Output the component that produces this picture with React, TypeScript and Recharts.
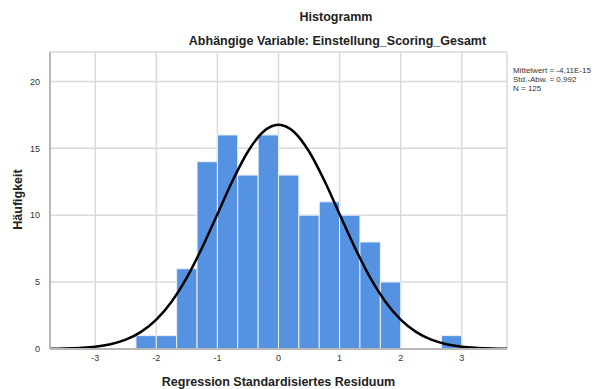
import { ComposedChart, Line, XAxis, YAxis, CartesianGrid, ReferenceArea } from 'recharts';

// histogram bins: edges (n+1) and frequencies (n)
const binEdges = [-2.333, -2, -1.667, -1.333, -1, -0.667, -0.333, 0, 0.333, 0.667, 1, 1.333, 1.667, 2, 2.333, 2.667, 3];
const binCounts = [1, 1, 6, 14, 16, 13, 16, 13, 10, 11, 10, 8, 5, 0, 0, 1];

// normal curve overlay
const curveX = [-3.74, -3.5, -3.25, -3, -2.75, -2.5, -2.25, -2, -1.75, -1.5, -1.25, -1, -0.75, -0.5, -0.25, 0, 0.25, 0.5, 0.75, 1, 1.25, 1.5, 1.75, 2, 2.25, 2.5, 2.75, 3, 3.25, 3.5, 3.74];
const curveY = [0.01, 0.03, 0.08, 0.17, 0.36, 0.7, 1.28, 2.2, 3.54, 5.34, 7.58, 10.08, 12.59, 14.76, 16.24, 16.76, 16.24, 14.76, 12.59, 10.08, 7.58, 5.34, 3.54, 2.2, 1.28, 0.7, 0.36, 0.17, 0.08, 0.03, 0.01];

const xTicks = [-3, -2, -1, 0, 1, 2, 3];
const yTicks = [0, 5, 10, 15, 20];

const statLines = ['Mittelwert = -4,11E-15', 'Std.-Abw. = 0,992', 'N = 125'];

const curveData = curveX.map((x, i) => ({ x, y: curveY[i] }));
const bins = binCounts.map((count, i) => ({ lo: binEdges[i], hi: binEdges[i + 1], count }));

const font = '"Liberation Sans", Arial, sans-serif';
const tickStyle = { fill: '#333', fontSize: 9, fontFamily: font };
const titleStyle = { fontSize: 12.5, fontWeight: 'bold', fill: '#222', fontFamily: font };

export default function App() {
  return (
    <div style={{ position: 'relative', width: 598, height: 389, fontFamily: font, background: '#fff' }}>
      <style>{'body{margin:0}'}</style>
      <div style={{ position: 'absolute', left: 0, width: 672, top: 10, textAlign: 'center', fontSize: 12.5, fontWeight: 'bold', color: '#222' }}>
        Histogramm
      </div>
      <div style={{ position: 'absolute', left: 0, width: 675, top: 34, textAlign: 'center', fontSize: 12.5, fontWeight: 'bold', color: '#222' }}>
        Abhängige Variable: Einstellung_Scoring_Gesamt
      </div>
      <div style={{ position: 'absolute', left: 513, top: 66, fontSize: 8, lineHeight: '9px', color: '#333' }}>
        {statLines.map((s) => (
          <div key={s}>{s}</div>
        ))}
      </div>
      <ComposedChart width={598} height={389} data={curveData} margin={{ top: 52, right: 91, bottom: 10, left: 0 }}>
        <CartesianGrid stroke="#dadada" strokeWidth={1.5} />
        <XAxis
          dataKey="x"
          type="number"
          domain={[-3.74, 3.74]}
          ticks={xTicks}
          allowDataOverflow
          tick={tickStyle}
          tickLine={false}
          tickSize={0}
          tickMargin={6}
          axisLine={{ stroke: '#b8b8b8', strokeWidth: 2 }}
          label={{ value: 'Regression Standardisiertes Residuum', position: 'center', dy: 18, style: titleStyle }}
        />
        <YAxis
          type="number"
          domain={[0, 22.2]}
          ticks={yTicks}
          width={50}
          allowDataOverflow
          tick={tickStyle}
          tickLine={false}
          tickSize={0}
          tickMargin={10}
          axisLine={{ stroke: '#b8b8b8', strokeWidth: 2 }}
          label={{ value: 'Häufigkeit', angle: -90, position: 'center', dx: -7, dy: -1, style: titleStyle }}
        />
        {bins
          .filter((b) => b.count > 0)
          .map((b) => (
            <ReferenceArea
              key={b.lo}
              x1={b.lo}
              x2={b.hi}
              y1={0}
              y2={b.count}
              fill="#5592e1"
              fillOpacity={1}
              stroke="#e8f0fb"
              strokeWidth={1}
            />
          ))}
        <Line
          dataKey="y"
          type="monotone"
          stroke="#000"
          strokeWidth={2.5}
          dot={false}
          activeDot={false}
          isAnimationActive={false}
        />
      </ComposedChart>
    </div>
  );
}
